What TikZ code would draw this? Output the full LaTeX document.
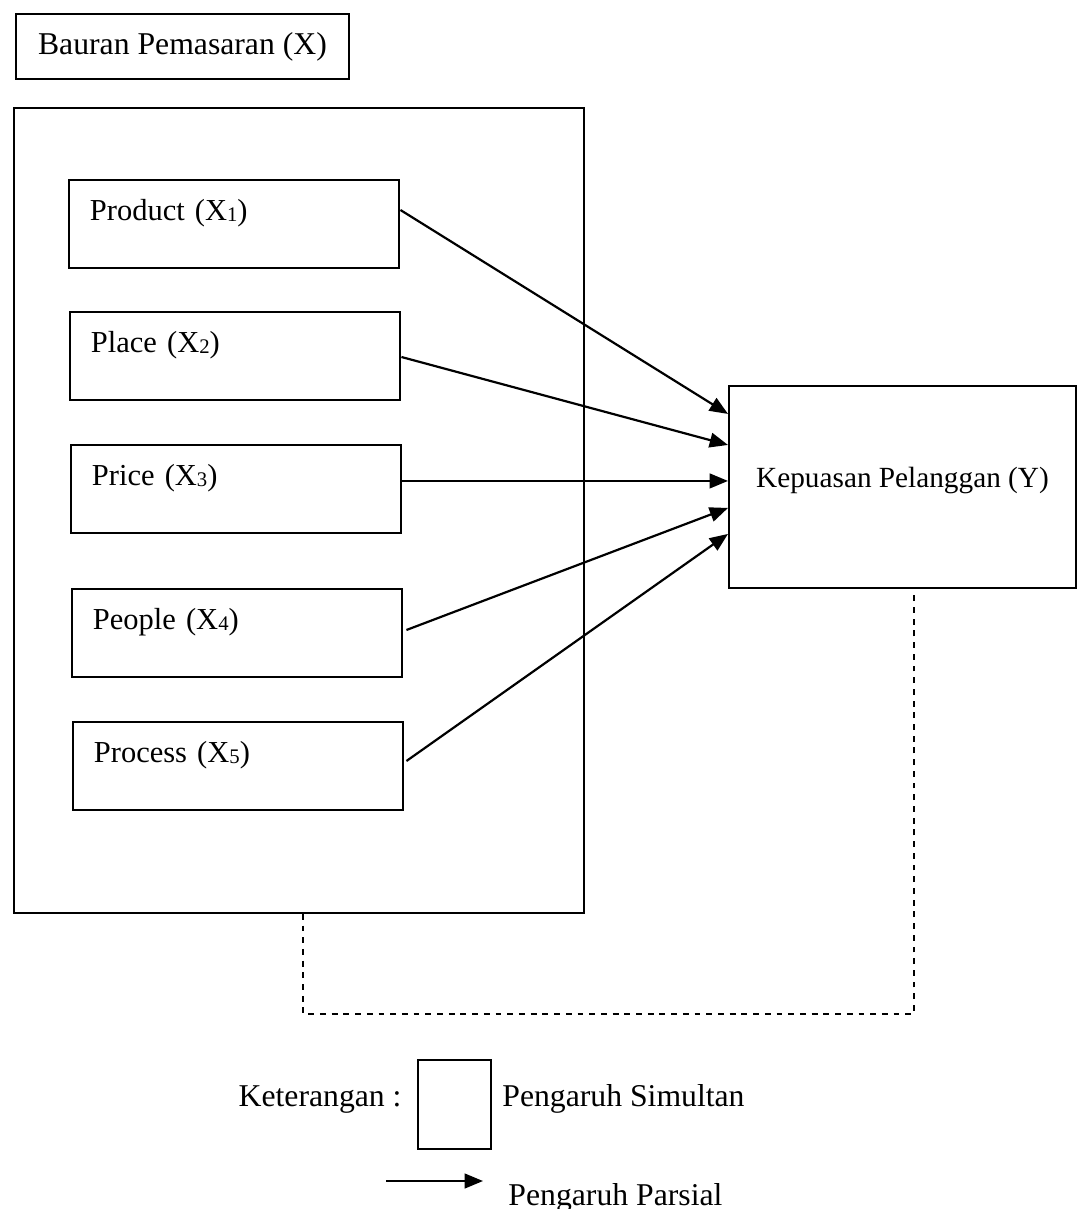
\documentclass[tikz,border=0pt]{standalone}
\usepackage{fontspec}
\setmainfont{Liberation Serif}
\usetikzlibrary{arrows.meta, calc}
\tikzstyle{block} = [rectangle, draw=black, line width=0.8pt, anchor=north west, inner sep=0pt]
\tikzstyle{varbox} = [block, text width=118.3pt, inner xsep=8.6pt, inner ysep=0pt, text height=16.8pt, text depth=19.3pt, align=left, font=\fontsize{12.5}{15}\selectfont]
\tikzstyle{arrow} = [line width=0.9pt, -{Triangle[length=7.5pt,width=6pt]}]
\tikzstyle{simultan} = [line width=0.6pt, dash pattern=on 2.4pt off 2.4pt]
\tikzstyle{legend} = [inner sep=0pt, font=\fontsize{13}{15}\selectfont]
\newcommand{\subx}[1]{\raisebox{-0.3pt}{\fontsize{8.5}{8.5}\selectfont #1}}

\begin{document}
\begin{tikzpicture}[x=0.41pt, y=-0.41pt]
	\useasboundingbox (0,0) rectangle (1080,1209);
	
	\node (Bauran) [block, minimum width=136.5pt, minimum height=26.7pt, font=\fontsize{13}{15}\selectfont] at (15,13) {Bauran Pemasaran (X)};
	\node (Mix) [block, minimum width=233.7pt, minimum height=330pt] at (13,107) {};
	
	\node (Product) [varbox] at (68,179) {Product (X\subx{1})};
	\node (Place) [varbox] at (69,311) {Place (X\subx{2})};
	\node (Price) [varbox] at (70,444) {Price (X\subx{3})};
	\node (People) [varbox] at (71,588) {People (X\subx{4})};
	\node (Process) [varbox] at (72,721) {Process (X\subx{5})};
	
	\node (Kepuasan) [block, minimum width=142.3pt, minimum height=82.8pt, text height=8pt, text depth=7.2pt, font=\fontsize{12}{14}\selectfont] at (728,385) {Kepuasan Pelanggan (Y)};
	
	\coordinate (In1) at ($(Kepuasan.west)+(0,-73)$);
	\coordinate (In2) at ($(Kepuasan.west)+(0,-42)$);
	\coordinate (In3) at ($(Kepuasan.west)+(0,-6)$);
	\coordinate (In4) at ($(Kepuasan.west)+(0,21)$);
	\coordinate (In5) at ($(Kepuasan.west)+(0,47)$);
	
	\draw [arrow] ($(Product.east)+(0,-14)$) -- (In1);
	\draw [arrow] ($(Place.east)+(0,1)$) -- (In2);
	\draw [arrow] (Price.east |- In3) -- (In3);
	\draw [arrow] ($(People.east)+(3,-3)$) -- (In4);
	\draw [arrow] ($(Process.east)+(2,-5)$) -- (In5);
	
	% simultaneous effect
	\coordinate (DashCorner) at ($(Kepuasan.south)+(11.5,425)$);
	\draw [simultan] ($(Mix.south)+(4,0)$) |- (DashCorner) -- ($(Kepuasan.south)+(11.5,5)$);
	
	% legend
	\node (LegendBox) [block, minimum width=29.9pt, minimum height=36.5pt] at (417,1059) {};
	\node (Keterangan) [legend, anchor=base east] at ($(LegendBox.west)+(-15,1.5)$) {Keterangan :};
	\node (Simultan) [legend, anchor=base west] at ($(LegendBox.east)+(10,1.5)$) {Pengaruh Simultan};
	\coordinate (ParsialStart) at (386,1181);
	\coordinate (ParsialEnd) at (483,1181);
	\draw [arrow] (ParsialStart) -- (ParsialEnd);
	\node (Parsial) [legend, anchor=base west] at (508,1205) {Pengaruh Parsial};
\end{tikzpicture}
\end{document}
